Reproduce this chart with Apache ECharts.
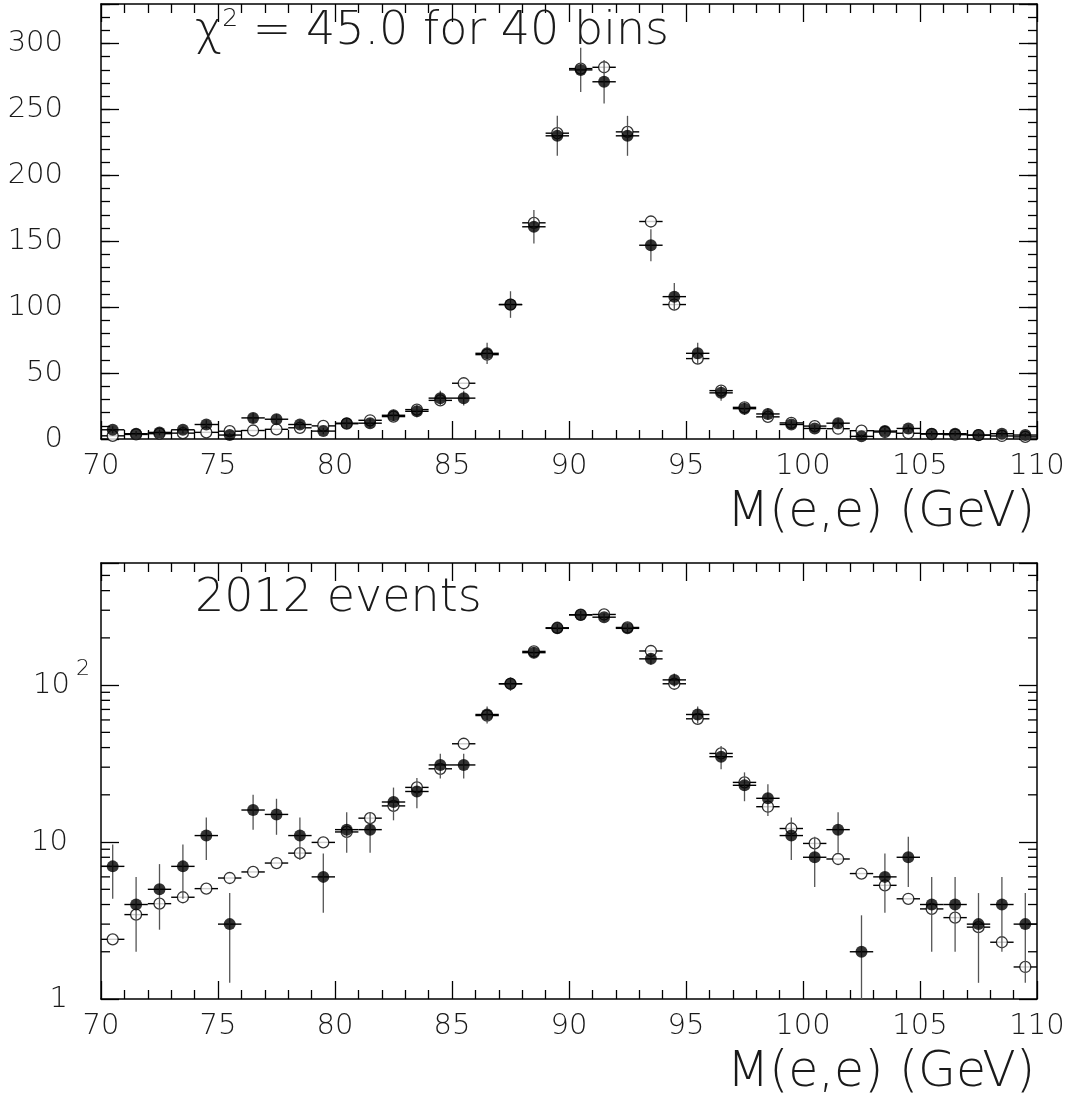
<!DOCTYPE html>
<html>
<head>
<meta charset="utf-8">
<script src="https://cdn.jsdelivr.net/npm/echarts@6/dist/echarts.min.js"></script>
<style>
  html, body { margin: 0; padding: 0; background: #fff; }
  #chart { width: 1080px; height: 1099px; }
</style>
</head>
<body>
<div id="chart"></div>
<script>
// Di-electron invariant mass, 1 GeV bins from 70 to 110 GeV
const binCenters = [
  70.5, 71.5, 72.5, 73.5, 74.5, 75.5, 76.5, 77.5, 78.5, 79.5,
  80.5, 81.5, 82.5, 83.5, 84.5, 85.5, 86.5, 87.5, 88.5, 89.5,
  90.5, 91.5, 92.5, 93.5, 94.5, 95.5, 96.5, 97.5, 98.5, 99.5,
  100.5, 101.5, 102.5, 103.5, 104.5, 105.5, 106.5, 107.5, 108.5, 109.5
];

// Observed events per bin (filled points)
const dataCounts = [
  7, 4, 5, 7, 11, 3, 16, 15, 11, 6,
  12, 12, 18, 21, 31, 31, 65, 102, 161, 230,
  280, 271, 230, 147, 108, 65, 35, 23, 19, 11,
  8, 12, 2, 6, 8, 4, 4, 3, 4, 3
];

// Fitted expectation per bin (open points)
const fitValues = [
  2.4, 3.45, 4.05, 4.45, 5.05, 5.9, 6.45, 7.35, 8.5, 9.95,
  11.6, 14.2, 17.0, 22.3, 29.3, 42.3, 64, 102, 164, 232,
  281, 282, 233, 165, 102, 61, 36.7, 24, 16.8, 12.2,
  9.8, 7.8, 6.3, 5.3, 4.35, 3.75, 3.3, 2.87, 2.3, 1.6
];

// Minor tick positions on the logarithmic axis
const logMinorTicks = [2, 3, 4, 5, 6, 7, 8, 9, 20, 30, 40, 50, 60, 70, 80, 90, 200, 300, 400, 500];

const massTitle = 'M(e,e) (GeV)';
const fitTitle = '{a|\u03c7}{s|2}{a| = 45.0 for 40 bins}';
const countTitle = '2012 events';

const FONT = '"DejaVu Sans", sans-serif';
const FW = 200;
const INK = '#1a1a1a';

const dataPts = binCenters.map((x, i) => [x, dataCounts[i]]);
const fitPts = binCenters.map((x, i) => [x, fitValues[i]]);

function barRenderer(withVertical, floor) {
  return function (params, api) {
    const x = api.value(0), y = api.value(1);
    const l = api.coord([x - 0.5, y]);
    const r = api.coord([x + 0.5, y]);
    const children = [{
      type: 'line',
      shape: { x1: l[0], y1: l[1], x2: r[0], y2: r[1] },
      style: { stroke: '#000', lineWidth: 1.4 }
    }];
    if (withVertical) {
      const e = Math.sqrt(y); // Poisson error on the count
      let lo = y - e;
      if (floor != null && lo < floor) lo = floor;
      const b = api.coord([x, lo]);
      const t = api.coord([x, y + e]);
      children.push({
        type: 'line',
        shape: { x1: b[0], y1: b[1], x2: t[0], y2: t[1] },
        style: { stroke: '#555', lineWidth: 1.3 }
      });
    }
    return { type: 'group', children };
  };
}

function logMinorRenderer(params, api) {
  const v = api.value(1);
  const L = api.coord([70, v]);
  const R = api.coord([110, v]);
  return {
    type: 'group',
    children: [
      { type: 'line', shape: { x1: L[0], y1: L[1], x2: L[0] + 9, y2: L[1] }, style: { stroke: '#000', lineWidth: 1.3 } },
      { type: 'line', shape: { x1: R[0], y1: R[1], x2: R[0] - 9, y2: R[1] }, style: { stroke: '#000', lineWidth: 1.3 } }
    ]
  };
}

const lineStyle = { color: '#000', width: 1.5 };

function massAxis(gridIndex, position, withLabels) {
  return {
    type: 'value', gridIndex, position,
    min: 70, max: 110, interval: 5,
    axisLine: { show: true, onZero: false, lineStyle },
    axisTick: { show: true, inside: true, length: 18, lineStyle: { color: '#000', width: 1.3 } },
    minorTick: { show: true, splitNumber: 5, length: 9, lineStyle: { color: '#000', width: 1.3 } },
    splitLine: { show: false },
    axisLabel: withLabels ? {
      show: true, margin: 13, color: INK, fontFamily: FONT, fontWeight: FW, fontSize: 29
    } : { show: false },
    name: withLabels ? massTitle : '',
    nameLocation: 'end',
    nameGap: -2,
    nameTextStyle: {
      fontFamily: FONT, fontWeight: FW, fontSize: 49, color: INK,
      align: 'right', verticalAlign: 'top', padding: [50, 0, 0, 0]
    }
  };
}

function linAxis(position, interval, tickLen, withLabels, showLine) {
  return {
    type: 'value', gridIndex: 0, position,
    min: 0, max: 330, interval,
    axisLine: { show: showLine, onZero: false, lineStyle },
    axisTick: { show: true, inside: true, length: tickLen, lineStyle: { color: '#000', width: 1.3 } },
    splitLine: { show: false },
    axisLabel: withLabels ? {
      show: true, margin: 38, color: INK, fontFamily: FONT, fontWeight: FW, fontSize: 29,
      formatter: v => (Math.round(v) % 50 === 0 ? String(Math.round(v)) : '')
    } : { show: false }
  };
}

function logAxis(position, withLabels) {
  return {
    type: 'log', logBase: 10, gridIndex: 1, position,
    min: 1, max: 600,
    axisLine: { show: true, onZero: false, lineStyle },
    axisTick: { show: true, inside: true, length: 18, lineStyle: { color: '#000', width: 1.3 } },
    splitLine: { show: false },
    axisLabel: withLabels ? {
      show: true, margin: 11, color: INK, fontFamily: FONT, fontWeight: FW, fontSize: 29,
      formatter: v => {
        if (Math.abs(v - 100) < 1e-6) return '{m|10}{s|2}';
        if (Math.abs(v - 10) < 1e-6) return '{n|10}{e|}';
        if (Math.abs(v - 1) < 1e-6) return '{n|1}{e|}';
        return '';
      },
      rich: {
        n: { fontFamily: FONT, fontWeight: FW, fontSize: 29, color: INK },
        // tall line box so the exponent can sit above the mantissa
        m: { fontFamily: FONT, fontWeight: FW, fontSize: 29, color: INK, lineHeight: 54, verticalAlign: 'middle' },
        s: {
          fontFamily: FONT, fontWeight: FW, fontSize: 22, color: INK, width: 20,
          lineHeight: 29, verticalAlign: 'top', align: 'right'
        },
        e: { width: 22 }
      }
    } : { show: false }
  };
}

function panelSeries(xi, yi, floor) {
  return [
    {
      type: 'custom', xAxisIndex: xi, yAxisIndex: yi, data: fitPts, silent: true, z: 2,
      renderItem: barRenderer(false, floor), encode: { x: 0, y: 1 }
    },
    {
      type: 'scatter', xAxisIndex: xi, yAxisIndex: yi, data: fitPts, silent: true, z: 3,
      symbol: 'circle', symbolSize: 11,
      itemStyle: { color: '#fff', borderColor: '#000', borderWidth: 1.3 }
    },
    {
      type: 'custom', xAxisIndex: xi, yAxisIndex: yi, data: dataPts, silent: true, z: 4,
      renderItem: barRenderer(true, floor), encode: { x: 0, y: 1 }
    },
    {
      type: 'scatter', xAxisIndex: xi, yAxisIndex: yi, data: dataPts, silent: true, z: 5,
      symbol: 'circle', symbolSize: 12,
      itemStyle: { color: '#000' }
    }
  ];
}

const chart = echarts.init(document.getElementById('chart'), null, { renderer: 'canvas' });

chart.setOption({
  animation: false,
  backgroundColor: '#fff',
  title: [
    {
      text: fitTitle, left: 195, top: 7, padding: 0,
      textStyle: {
        rich: {
          a: { fontFamily: FONT, fontWeight: FW, fontSize: 46, color: INK, lineHeight: 50 },
          s: { fontFamily: FONT, fontWeight: FW, fontSize: 25, color: INK, verticalAlign: 'top', lineHeight: 24 }
        }
      }
    },
    {
      text: countTitle, left: 195, top: 574, padding: 0,
      textStyle: { fontFamily: FONT, fontWeight: FW, fontSize: 46, color: INK, lineHeight: 50 }
    }
  ],
  grid: [
    { left: 101, right: 43, top: 4, height: 435 },
    { left: 101, right: 43, top: 563, height: 436 }
  ],
  xAxis: [
    massAxis(0, 'bottom', true),
    massAxis(0, 'top', false),
    massAxis(1, 'bottom', true),
    massAxis(1, 'top', false)
  ],
  yAxis: [
    linAxis('left', 50, 18, true, true),
    linAxis('left', 10, 9, false, false),
    linAxis('right', 50, 18, false, true),
    linAxis('right', 10, 9, false, false),
    logAxis('left', true),
    logAxis('right', false)
  ],
  series: [
    ...panelSeries(0, 0, null),
    ...panelSeries(2, 4, 1),
    {
      type: 'custom', xAxisIndex: 2, yAxisIndex: 4, silent: true, z: 1,
      data: logMinorTicks.map(v => [70, v]),
      renderItem: logMinorRenderer, encode: { x: 0, y: 1 }
    }
  ]
});
</script>
</body>
</html>
